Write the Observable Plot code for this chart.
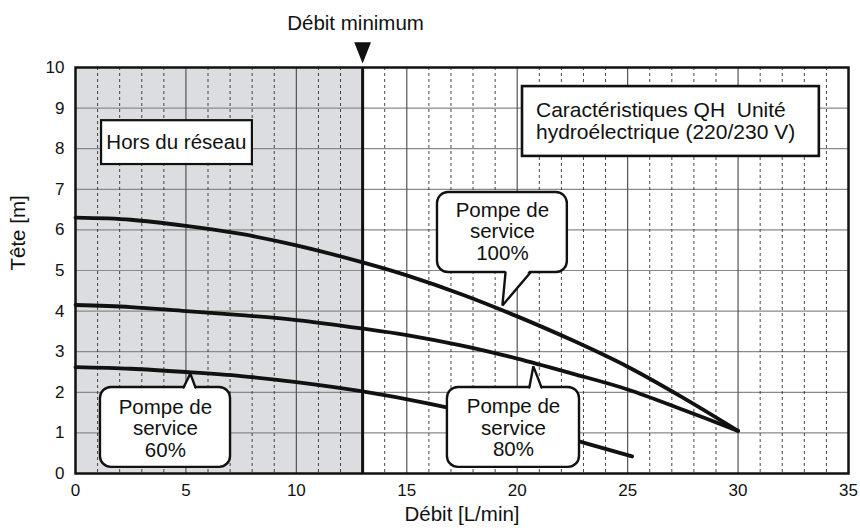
<!DOCTYPE html>
<html>
<head>
<meta charset="utf-8">
<script src="https://cdn.jsdelivr.net/npm/d3@7"></script>
<script src="https://cdn.jsdelivr.net/npm/@observablehq/plot@0.6"></script>
<style>
  html, body { margin: 0; padding: 0; background: #fff; }
  #chart { width: 860px; height: 530px; }
</style>
</head>
<body>
<div id="chart"></div>
<script>
// ---- Data ----
const flow100 = [0, 2.5, 5, 7.5, 10, 13, 15, 17.5, 20, 22.5, 25, 27.5, 30];
const head100 = [6.3, 6.25, 6.1, 5.9, 5.62, 5.2, 4.88, 4.41, 3.87, 3.28, 2.63, 1.87, 1.05];
const flow80 = [0, 2.5, 5, 7.5, 10, 13, 15, 17.5, 20, 22.5, 25, 27.5, 30];
const head80 = [4.15, 4.1, 4.0, 3.9, 3.78, 3.57, 3.41, 3.15, 2.83, 2.46, 2.07, 1.57, 1.05];
const flow60 = [0, 2.5, 5, 7.5, 10, 13, 16, 20, 23, 25.2];
const head60 = [2.62, 2.58, 2.5, 2.4, 2.25, 2.02, 1.72, 1.22, 0.76, 0.42];

const xTicks = [0, 5, 10, 15, 20, 25, 30, 35];
const yTicks = [0, 1, 2, 3, 4, 5, 6, 7, 8, 9, 10];
const minFlow = 13;

const seriesLabels = ["Pompe de\nservice\n100%", "Pompe de\nservice\n80%", "Pompe de\nservice\n60%"];
const offGridLabel = "Hors du réseau";
const titleLabel = "Caractéristiques QH  Unité\nhydroélectrique (220/230 V)";
const minLabel = "Débit minimum";
const xLabel = "Débit [L/min]";
const yLabel = "Tête [m]";

// ---- Build tables ----
const curves = [
  ...flow100.map((x, i) => ({s: "100", x, y: head100[i]})),
  ...flow80.map((x, i) => ({s: "80", x, y: head80[i]})),
  ...flow60.map((x, i) => ({s: "60", x, y: head60[i]}))
];

const minorX = d3.range(1, 35).filter(v => v % 5 !== 0);
const majorX = [5, 10, 15, 20, 25, 30];

// annotation layout (data units)
const callouts = [
  {label: seriesLabels[0], x1: 16.39, x2: 22.27, y1: 4.95, y2: 6.92, tx: 19.33, ty: 5.96,
   tip: [19.33, 4.14], base: [19.47, 20.6], edge: 4.95, dir: -1},
  {label: seriesLabels[1], x1: 16.84, x2: 22.82, y1: 0.15, y2: 2.12, tx: 19.83, ty: 1.13,
   tip: [20.73, 2.64], base: [20.55, 21.1], edge: 2.12, dir: 1},
  {label: seriesLabels[2], x1: 1.13, x2: 7.02, y1: 0.15, y2: 2.12, tx: 4.07, ty: 1.11,
   tip: [5.2, 2.46], base: [4.89, 5.43], edge: 2.12, dir: 1}
];
const pointerFill = callouts.flatMap((c, i) => [
  {k: i, x: c.base[0], y: c.edge - c.dir * 0.09},
  {k: i, x: c.tip[0], y: c.tip[1]},
  {k: i, x: c.base[1], y: c.edge - c.dir * 0.09}
]);
const pointerEdge = callouts.flatMap((c, i) => [
  {k: i, x: c.base[0], y: c.edge},
  {k: i, x: c.tip[0], y: c.tip[1]},
  {k: i, x: c.base[1], y: c.edge}
]);
const marker = [
  {x: minFlow - 0.38, y: 10.62},
  {x: minFlow + 0.38, y: 10.62},
  {x: minFlow, y: 10.1}
];

const font = "'Liberation Sans', Arial, Helvetica, sans-serif";

const chart = Plot.plot({
  width: 860,
  height: 530,
  marginLeft: 75,
  marginRight: 12,
  marginTop: 67,
  marginBottom: 57,
  style: {fontFamily: font, fontSize: "17px", color: "#111", background: "#fff"},
  x: {domain: [0, 35], ticks: xTicks, tickSize: 0, tickPadding: 10, label: null},
  y: {domain: [0, 10], ticks: yTicks, tickSize: 0, tickPadding: 11, label: null},
  marks: [
    Plot.rect([{x1: 0, x2: minFlow, y1: 0, y2: 10}], {x1: "x1", x2: "x2", y1: "y1", y2: "y2", fill: "#dcdde0"}),
    Plot.ruleY(yTicks, {stroke: "#8a8a8a", strokeWidth: 1.2}),
    Plot.ruleX(minorX, {stroke: "#333", strokeWidth: 0.9, strokeDasharray: "3,3"}),
    Plot.ruleX(majorX, {stroke: "#555", strokeWidth: 1.2}),
    Plot.ruleX([minFlow], {stroke: "#111", strokeWidth: 3}),
    Plot.frame({stroke: "#111", strokeWidth: 2.5}),
    Plot.line(curves, {x: "x", y: "y", z: "s", stroke: "#111", strokeWidth: 3.8, curve: "catmull-rom"}),
    // boxes
    Plot.rect([{x1: 1.18, x2: 8.01, y1: 7.61, y2: 8.69}], {x1: "x1", x2: "x2", y1: "y1", y2: "y2", fill: "white", stroke: "#111", strokeWidth: 2.2}),
    Plot.rect([{x1: 20.24, x2: 33.68, y1: 7.81, y2: 9.53}], {x1: "x1", x2: "x2", y1: "y1", y2: "y2", fill: "white", stroke: "#111", strokeWidth: 2.6}),
    Plot.rect(callouts, {x1: "x1", x2: "x2", y1: "y1", y2: "y2", fill: "white", stroke: "#111", strokeWidth: 2.4, rx: 11}),
    Plot.line(pointerFill, {x: "x", y: "y", z: "k", fill: "white", stroke: "none"}),
    Plot.line(pointerEdge, {x: "x", y: "y", z: "k", stroke: "#111", strokeWidth: 2.4, strokeLinejoin: "miter"}),
    // texts
    Plot.text(callouts, {x: "tx", y: "ty", text: "label", fontSize: 20.5, lineHeight: 1.06, fill: "#111"}),
    Plot.text([offGridLabel], {x: 4.57, y: 8.15, fontSize: 20.5, fill: "#111"}),
    Plot.text([titleLabel], {x: 20.85, y: 8.69, fontSize: 21, lineHeight: 1.06, textAnchor: "start", fill: "#111"}),
    Plot.line(marker, {x: "x", y: "y", fill: "#111", stroke: "none"}),
    Plot.text([minLabel], {x: 12.68, y: 11.08, fontSize: 20.5, fill: "#111"}),
    Plot.text([xLabel], {frameAnchor: "bottom", dy: 47, fontSize: 20.5, fill: "#111"}),
    Plot.text([yLabel], {frameAnchor: "left", rotate: -90, dx: -57, fontSize: 20.5, fill: "#111"})
  ]
});

document.getElementById("chart").appendChild(chart);
</script>
</body>
</html>
